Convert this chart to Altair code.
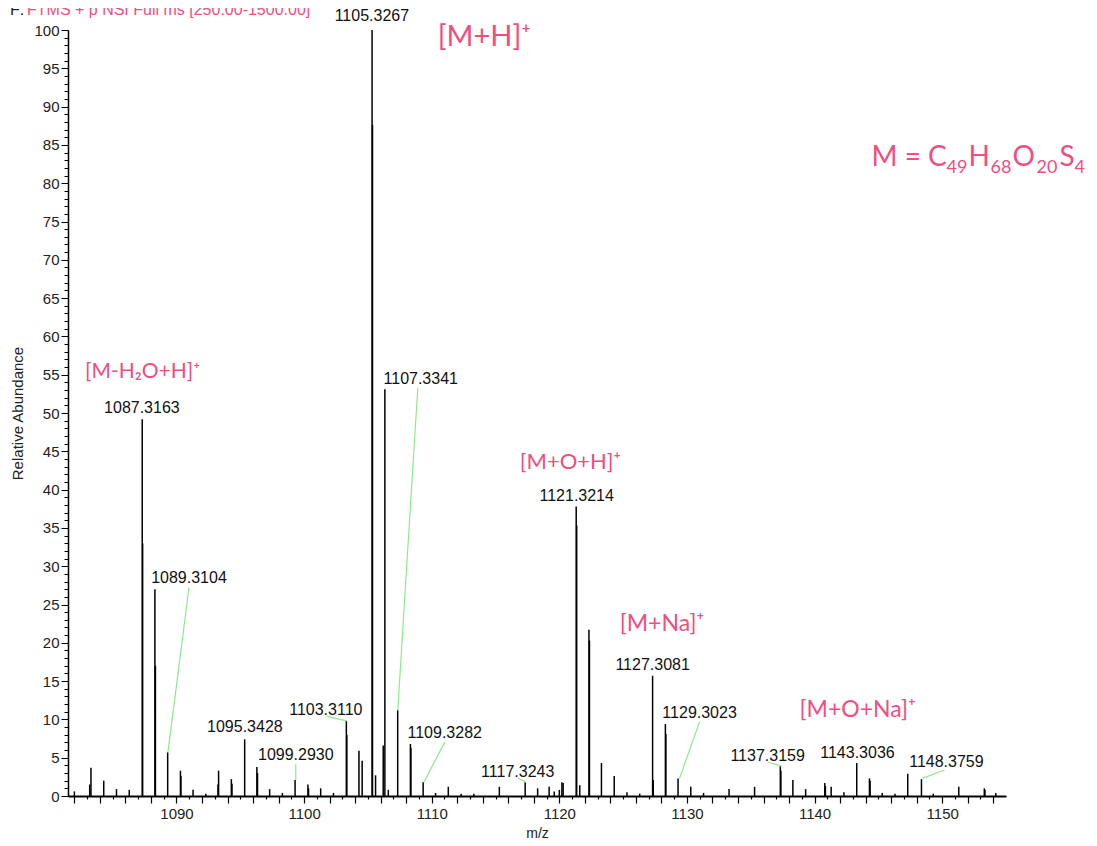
import altair as alt
import pandas as pd

# ---------------- data ----------------
peak_mz = [1082.0, 1083.2, 1083.3, 1084.3, 1085.3, 1086.3,
           1087.3163, 1087.35, 1088.31, 1088.35, 1089.3104, 1090.31, 1090.35,
           1091.3, 1092.3, 1093.25, 1093.3, 1094.3, 1094.35, 1095.3428,
           1096.3, 1096.35, 1097.3, 1098.3, 1099.2930, 1100.3, 1100.35,
           1101.3, 1102.3, 1103.3110, 1103.35, 1104.3, 1104.55,
           1105.3267, 1105.36, 1105.6, 1106.2, 1106.33, 1106.6,
           1107.3341, 1108.33, 1108.37, 1109.3282, 1110.3, 1111.3, 1112.3,
           1113.3, 1115.3, 1117.3243, 1118.3, 1119.2, 1119.6, 1120.0, 1120.2,
           1120.3, 1121.3214, 1121.36, 1121.6, 1122.32, 1122.36, 1123.3,
           1124.3, 1125.3, 1126.3, 1127.3081, 1127.36, 1128.31, 1128.35,
           1129.3023, 1130.3, 1131.3, 1133.3, 1135.3, 1137.3159, 1137.36,
           1138.3, 1139.3, 1140.8, 1140.85, 1141.3, 1142.3, 1143.3036,
           1144.3, 1144.35, 1145.3, 1146.3, 1147.3, 1148.3759, 1149.3,
           1151.3, 1153.3, 1153.35, 1154.2]
peak_abundance = [0.6, 1.5, 3.7, 2.0, 0.9, 0.8,
                  49.2, 33.0, 27.0, 17.0, 5.7, 3.3, 2.6,
                  0.8, 0.3, 1.5, 3.3, 2.2, 1.6, 7.4,
                  3.8, 3.0, 0.9, 0.4, 2.1, 1.5, 1.0,
                  1.0, 0.4, 9.8, 8.0, 5.9, 4.6,
                  100.0, 87.6, 2.7, 6.6, 53.1, 0.8,
                  11.2, 6.8, 6.3, 1.8, 0.4, 1.2, 0.3,
                  0.3, 1.2, 1.8, 1.0, 1.2, 0.6, 0.8, 1.8,
                  1.7, 37.8, 35.3, 1.4, 21.7, 20.3, 4.3,
                  2.6, 0.5, 0.3, 15.7, 2.1, 9.4, 8.1,
                  2.3, 1.2, 0.4, 0.9, 1.2, 3.9, 3.3,
                  2.1, 0.9, 1.7, 1.3, 1.2, 0.5, 4.3,
                  2.3, 2.0, 0.4, 0.3, 2.9, 2.2, 0.3,
                  1.2, 1.0, 0.8, 0.4]

label_text = ["1105.3267", "1087.3163", "1089.3104", "1095.3428", "1099.2930",
              "1103.3110", "1107.3341", "1109.3282", "1117.3243", "1121.3214",
              "1127.3081", "1129.3023", "1137.3159", "1143.3036", "1148.3759"]
label_mz = [1105.31, 1087.29, 1090.98, 1095.36, 1099.35,
            1101.70, 1109.14, 1111.02, 1116.74, 1121.36,
            1127.31, 1130.99, 1136.32, 1143.36, 1150.33]
label_y = [101.8, 50.65, 28.5, 9.0, 5.35,
           11.2, 54.4, 8.2, 3.1, 39.2,
           17.1, 10.8, 5.2, 5.6, 4.4]

leader_mz1 = [1090.98, 1099.35, 1101.78, 1108.91, 1111.02, 1116.74, 1130.99, 1136.32, 1150.18]
leader_y1 = [27.2, 4.2, 10.4, 53.3, 7.0, 2.35, 9.7, 4.4, 3.4]
leader_mz2 = [1089.33, 1099.35, 1103.35, 1107.34, 1109.38, 1117.37, 1129.42, 1137.41, 1148.45]
leader_y2 = [5.7, 2.1, 9.8, 11.2, 1.8, 1.8, 2.3, 3.9, 2.3]

ann_text = ["[M+H]⁺", "[M-H₂O+H]⁺", "[M+O+H]⁺", "[M+Na]⁺", "[M+O+Na]⁺"]
ann_mz = [1110.47, 1082.83, 1116.90, 1124.73, 1138.82]
ann_y = [99.1, 55.35, 43.6, 22.45, 11.2]
ann_size = [29, 21, 22, 23, 23]

formula_parts = ["M = C", "49", "H", "68", "O", "20", "S", "4"]
formula_is_sub = [False, True, False, True, False, True, False, True]
formula_mz = 1144.46
formula_y = 82.25

x_tick_values = [1082 + 0.5 * i for i in range(0, 146)]
y_tick_values = list(range(0, 101))

PINK = "#F04E7E"
GREEN = "#8EE88E"

# ---------------- chart ----------------
peaks = pd.DataFrame({"mz": peak_mz, "abundance": peak_abundance})
labels = pd.DataFrame({"text": label_text, "mz": label_mz, "y": label_y})
leaders = pd.DataFrame({"mz1": leader_mz1, "y1": leader_y1, "mz2": leader_mz2, "y2": leader_y2})
anns = pd.DataFrame({"text": ann_text, "mz": ann_mz, "y": ann_y, "size": ann_size})

x_scale = alt.Scale(domain=[1081.5, 1155.0], nice=False, zero=False)
y_scale = alt.Scale(domain=[0, 100], nice=False)

x_axis = alt.Axis(
    title="m/z", values=x_tick_values, format="d",
    labelExpr="datum.value % 10 === 0 ? datum.label : ''",
    tickSize={"condition": {"test": "datum.value % 2 === 0", "value": 7}, "value": 3},
    labelOverlap=False, labelFont="Liberation Sans", labelFontSize=15, labelColor="#222",
    labelPadding=3, titleFont="Liberation Sans", titleFontSize=14, titleFontWeight="normal",
    titleColor="#222", titlePadding=5, domainColor="black", domainWidth=2,
    tickColor="black", tickWidth=1.2, grid=False,
)
y_axis = alt.Axis(
    title="Relative Abundance", values=y_tick_values, format="d",
    labelExpr="datum.value % 5 === 0 ? datum.label : ''",
    tickSize={"condition": {"test": "datum.value % 5 === 0", "value": 7}, "value": 4},
    labelOverlap=False, labelFont="Liberation Sans", labelFontSize=15, labelColor="#222",
    labelPadding=2, titleFont="Liberation Sans", titleFontSize=15, titleFontWeight="normal",
    titleColor="#222", titlePadding=8, domainColor="black", domainWidth=1.5,
    tickColor="black", tickWidth=1, grid=False,
)


def X(field):
    return alt.X(field, scale=x_scale, axis=x_axis)


def Y(field):
    return alt.Y(field, scale=y_scale, axis=y_axis)


sticks = alt.Chart(peaks).mark_rule(color="black", strokeWidth=1.5).encode(
    x=X("mz:Q"), y=Y("abundance:Q"), y2=alt.datum(0)
)

leader_lines = alt.Chart(leaders).mark_rule(color=GREEN, strokeWidth=1.2).encode(
    x=X("mz1:Q"), x2="mz2:Q", y=Y("y1:Q"), y2="y2:Q",
)

peak_labels = alt.Chart(labels).mark_text(
    font="Liberation Sans", fontSize=16, color="#111", baseline="middle", align="center"
).encode(x=X("mz:Q"), y=Y("y:Q"), text="text:N")

annotations = alt.Chart(anns).mark_text(
    font="Lato", color=PINK, baseline="middle", align="left"
).encode(
    x=X("mz:Q"), y=Y("y:Q"), text="text:N",
    size=alt.Size("size:Q", scale=None, legend=None),
)

# chemical formula with real subscripts, built from pieces
piece_dx = [0, 75, 97, 119, 141, 165, 188, 203]
formula_layers = []
for part, is_sub, dx in zip(formula_parts, formula_is_sub, piece_dx):
    df = pd.DataFrame({"t": [part], "mz": [formula_mz], "y": [formula_y]})
    formula_layers.append(
        alt.Chart(df).mark_text(
            font="Lato", color=PINK, align="left", baseline="alphabetic",
            fontSize=18 if is_sub else 28, dx=dx, dy=7 if is_sub else 0,
        ).encode(x=X("mz:Q"), y=Y("y:Q"), text="t:N")
    )

header_f = alt.Chart(pd.DataFrame({"t": ["F:"]})).mark_text(
    font="Liberation Sans", fontSize=16, color="#222", align="left", baseline="top"
).encode(x=alt.value(-58), y=alt.value(-28), text="t:N")
header_rest = alt.Chart(pd.DataFrame({"t": ["FTMS + p NSI Full ms [250.00-1500.00]"]})).mark_text(
    font="Liberation Sans", fontSize=16, color=PINK, align="left", baseline="top"
).encode(x=alt.value(-41), y=alt.value(-28), text="t:N")

chart = alt.layer(
    sticks, leader_lines, peak_labels, annotations, *formula_layers, header_f, header_rest
).properties(
    width=938, height=766,
    autosize=alt.AutoSizeParams(type="none"),
    padding={"left": 60, "top": 22, "right": 83, "bottom": 50},
).configure_view(stroke=None)

chart.save("out.html", embed_options={"renderer": "svg", "actions": False})
